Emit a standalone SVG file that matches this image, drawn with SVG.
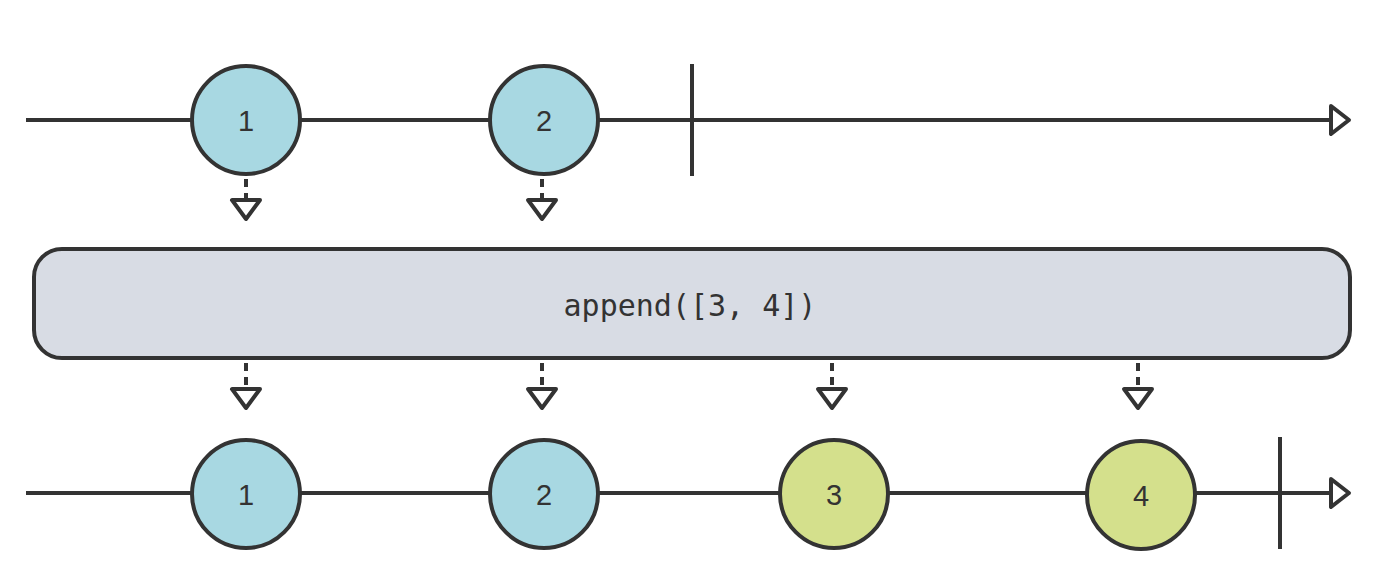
<svg xmlns="http://www.w3.org/2000/svg" width="1376" height="586" viewBox="0 0 1376 586">
<style>
.line{stroke:#333;stroke-width:4;fill:none}
.head{stroke:#333;stroke-width:4;fill:#fff;stroke-linejoin:round}
.dash{stroke:#333;stroke-width:4;stroke-dasharray:8 6;fill:none}
.tri{stroke:#333;stroke-width:4;fill:#fff;stroke-linejoin:round}
.blue{fill:#a8d8e2;stroke:#333;stroke-width:4}
.green{fill:#d4e08c;stroke:#333;stroke-width:4}
.lbl{font-family:"Liberation Sans",sans-serif;font-size:29px;fill:#333;text-anchor:middle;dominant-baseline:central}
.op{font-family:"DejaVu Sans Mono","Liberation Mono",monospace;font-size:30px;fill:#333;text-anchor:middle;dominant-baseline:central}
</style>
<rect width="1376" height="586" fill="#fff"/>
<g id="connectors">
<line class="line" x1="26" y1="120" x2="1331" y2="120"/>
<path class="head" d="M1331 106 L1349 120 L1331 134 Z"/>
<line class="line" x1="692" y1="64" x2="692" y2="176"/>
<line class="line" x1="26" y1="493" x2="1331" y2="493"/>
<path class="head" d="M1331 479 L1349 493 L1331 507 Z"/>
<line class="line" x1="1280" y1="437" x2="1280" y2="549"/>
<g>
<line class="dash" x1="246" y1="179" x2="246" y2="199"/>
<path class="tri" d="M232 200 L260 200 L246 219 Z"/>
<line class="dash" x1="542" y1="179" x2="542" y2="199"/>
<path class="tri" d="M528 200 L556 200 L542 219 Z"/>
<line class="dash" x1="246" y1="363" x2="246" y2="387"/>
<path class="tri" d="M232 389 L260 389 L246 408 Z"/>
<line class="dash" x1="542" y1="363" x2="542" y2="387"/>
<path class="tri" d="M528 389 L556 389 L542 408 Z"/>
<line class="dash" x1="832" y1="363" x2="832" y2="387"/>
<path class="tri" d="M818 389 L846 389 L832 408 Z"/>
<line class="dash" x1="1138" y1="363" x2="1138" y2="387"/>
<path class="tri" d="M1124 389 L1152 389 L1138 408 Z"/>
</g>
</g>
<g id="in1"><circle class="blue" cx="246" cy="120" r="54"/><text class="lbl" x="246" y="121">1</text></g>
<g id="in2"><circle class="blue" cx="544" cy="120" r="54"/><text class="lbl" x="544" y="121">2</text></g>
<g id="op"><rect x="34" y="249" width="1316" height="109" rx="28" fill="#d8dce4" stroke="#333" stroke-width="4"/><text class="op" x="690" y="305">append([3, 4])</text></g>
<g id="out1"><circle class="blue" cx="246" cy="494" r="54"/><text class="lbl" x="246" y="495">1</text></g>
<g id="out2"><circle class="blue" cx="544" cy="494" r="54"/><text class="lbl" x="544" y="495">2</text></g>
<g id="out3"><circle class="green" cx="834" cy="494" r="54"/><text class="lbl" x="834" y="495">3</text></g>
<g id="out4"><circle class="green" cx="1141" cy="495" r="54"/><text class="lbl" x="1141" y="496">4</text></g>
</svg>
